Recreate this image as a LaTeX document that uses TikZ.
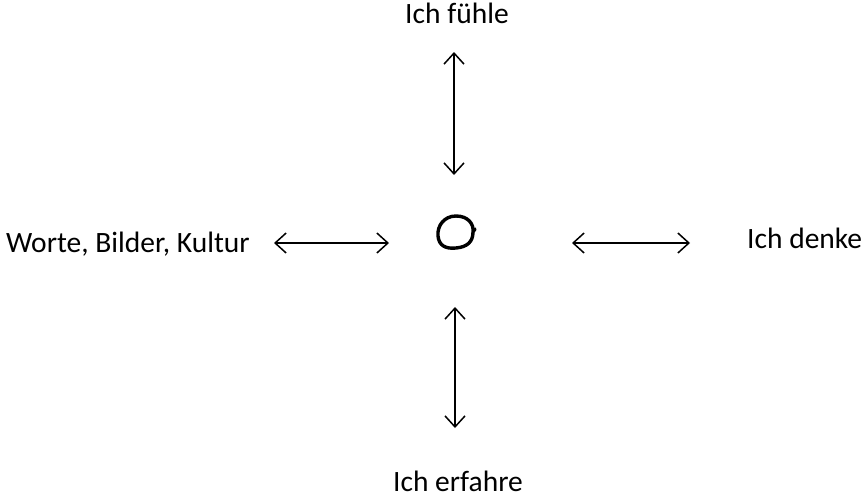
\documentclass[tikz,border=0pt]{standalone}
\usepackage{fontspec}
\setmainfont{Carlito}
\usetikzlibrary{arrows.meta}
\tikzset{
  lbl/.style={font=\fontsize{29.5}{35}\selectfont, inner sep=0pt},
  dblarrow/.style={line width=1.5pt, {Straight Barb[length=11pt,width=20pt,line width=1.5pt]}-{Straight Barb[length=11pt,width=20pt,line width=1.5pt]}},
  ring/.style={line width=3.4pt, line cap=round, line join=round}
}
\begin{document}
\begin{tikzpicture}[x=1pt,y=-1pt]
\useasboundingbox (0,0) rectangle (863,498);
\node[lbl, anchor=base] (top) at (457,23) {Ich fühle};
\node[lbl, anchor=base west] (left) at (6,252) {Worte, Bilder, Kultur};
\node[lbl, anchor=base west] (right) at (747,248) {Ich denke};
\node[lbl, anchor=base] (bottom) at (458,491) {Ich erfahre};
\coordinate (t1) at (454,52);
\coordinate (t2) at (454,175);
\coordinate (l1) at (274,243);
\coordinate (l2) at (389,243);
\coordinate (r1) at (572,243);
\coordinate (r2) at (690,243);
\coordinate (b1) at (455,307);
\coordinate (b2) at (455,428);
\draw[dblarrow] (t1) -- (t2);
\draw[dblarrow] (l1) -- (l2);
\draw[dblarrow] (r1) -- (r2);
\draw[dblarrow] (b1) -- (b2);
\coordinate (c) at (456,232);
\draw[ring] (473,232) .. controls (474,224) and (468,216) .. (456,216)
  .. controls (444,216) and (437,226) .. (438,236)
  .. controls (439,246) and (446,249) .. (456,248)
  .. controls (467,247) and (473,242) .. (473,232) -- (475,229);
\end{tikzpicture}
\end{document}
